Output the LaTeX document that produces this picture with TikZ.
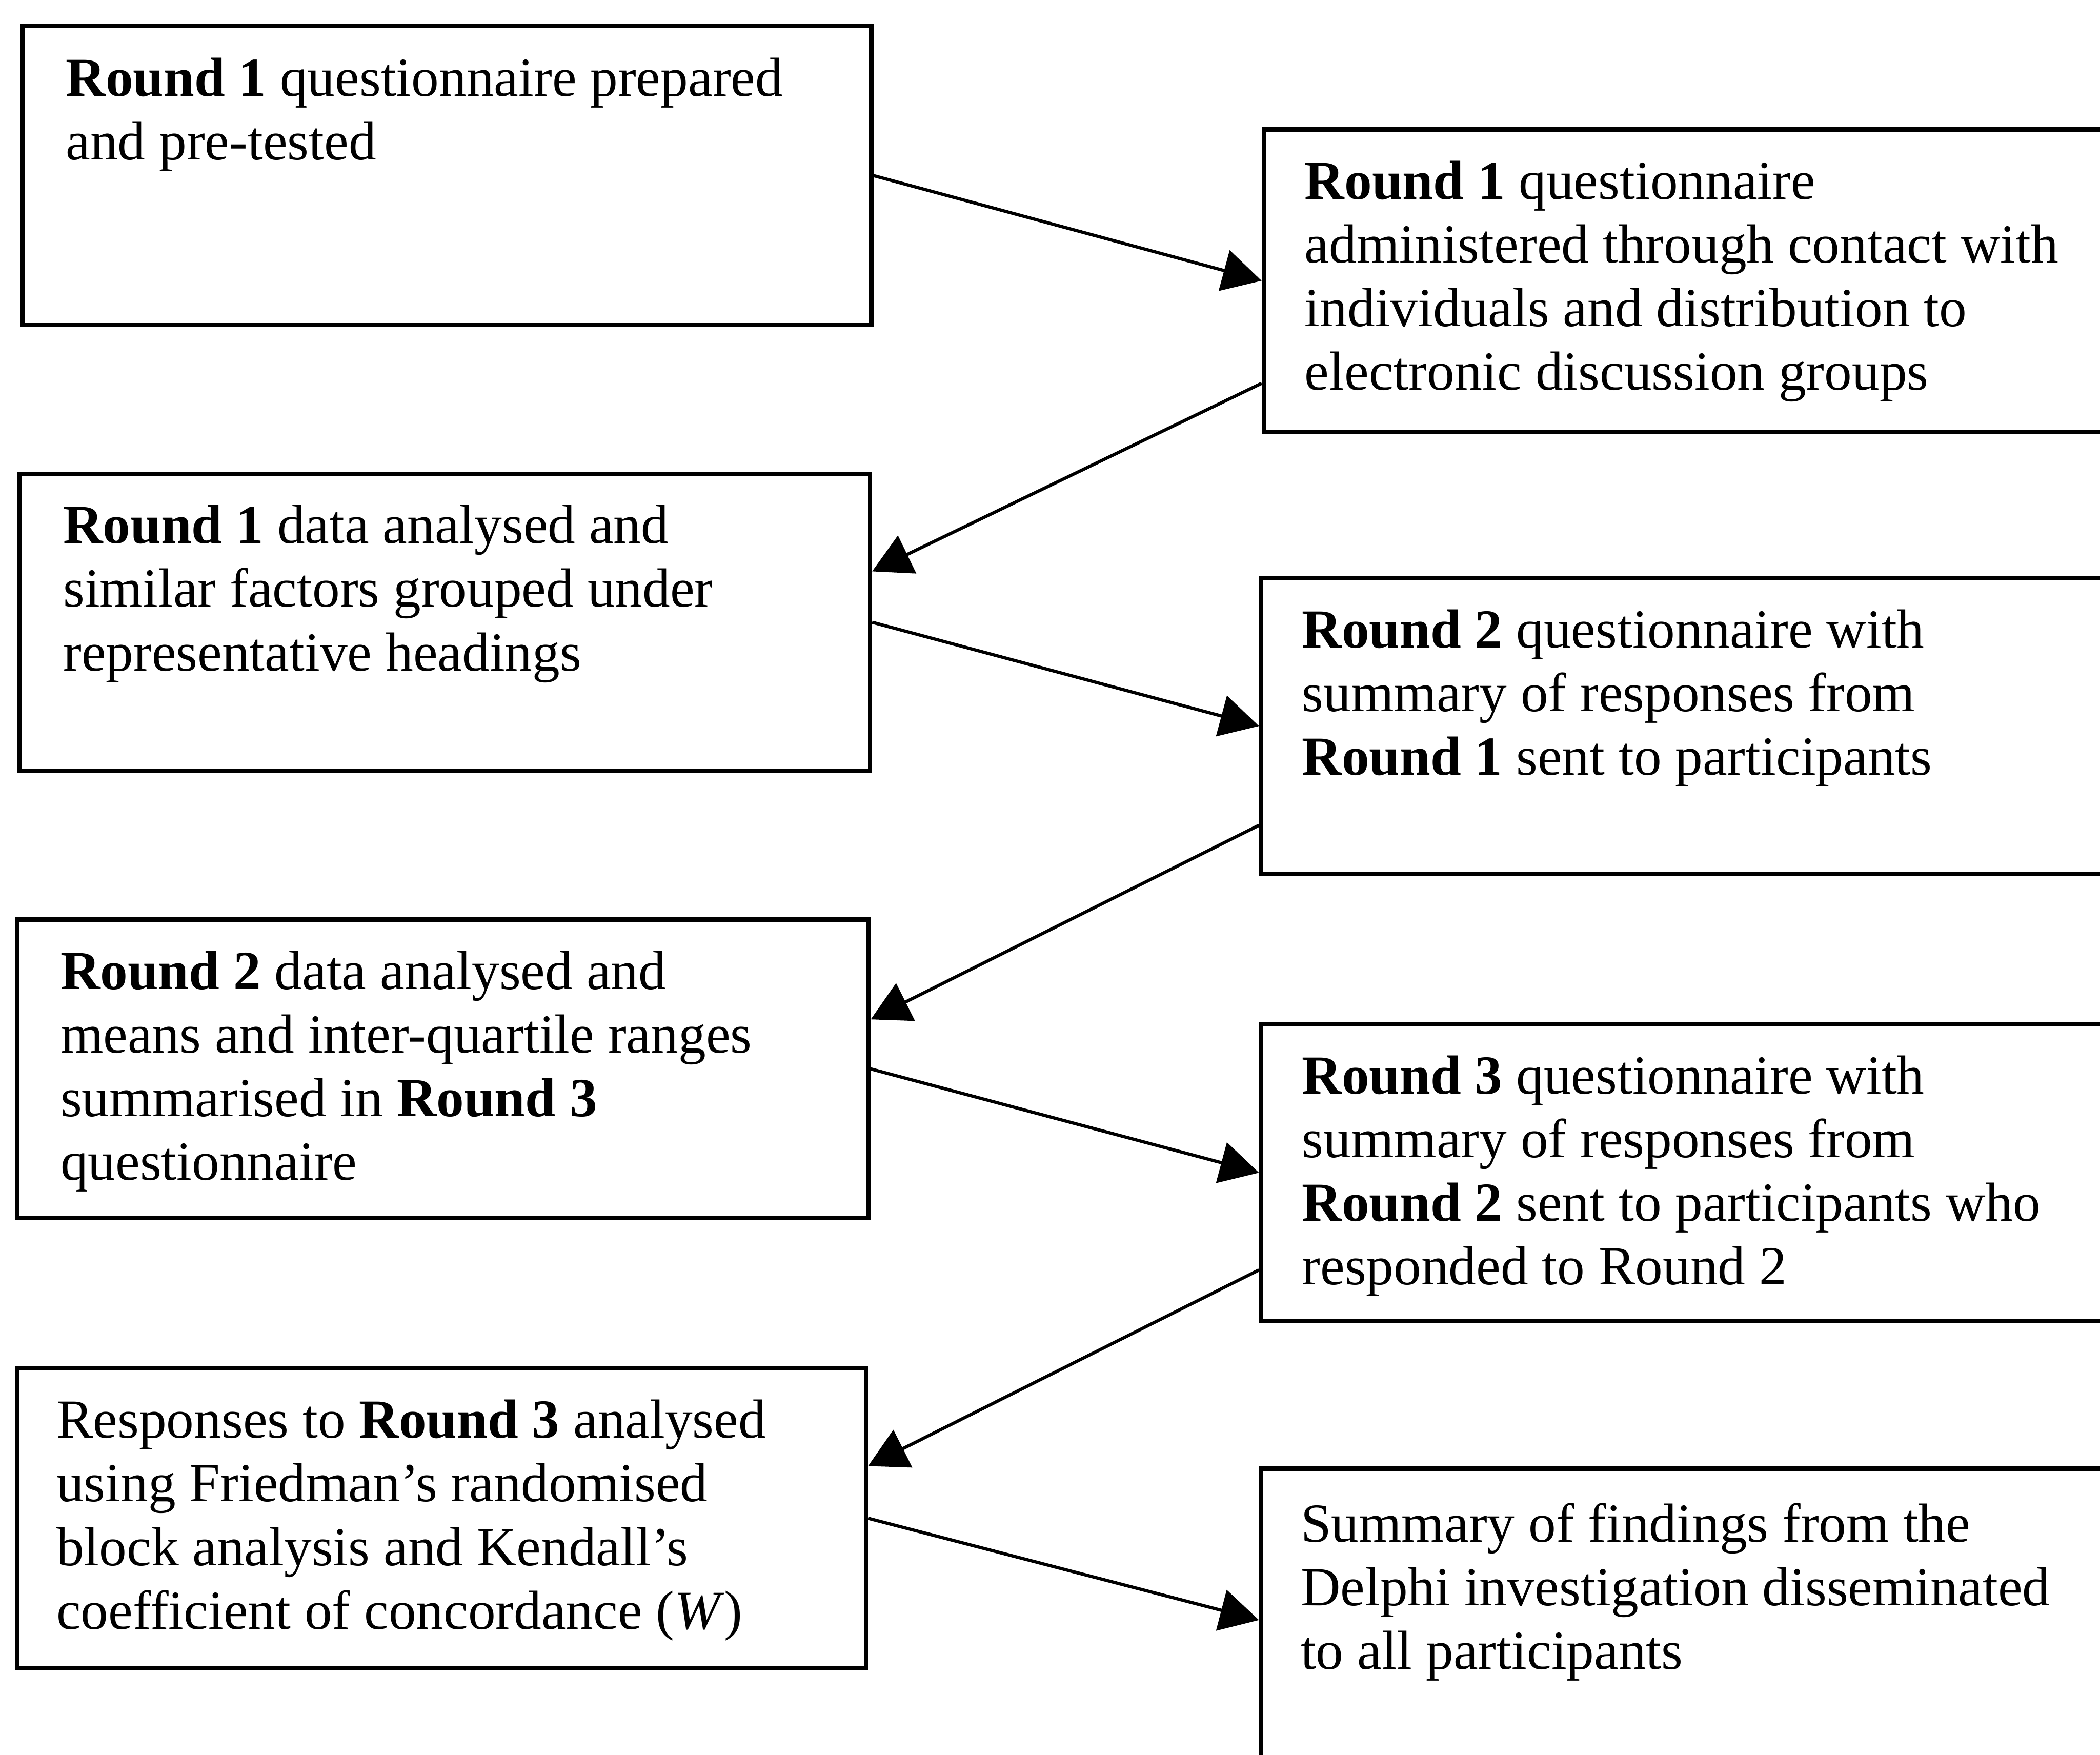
\documentclass[tikz,border=0pt]{standalone}
\usepackage{fontspec}
\setmainfont{Liberation Serif}
\usetikzlibrary{arrows.meta,calc}
\begin{document}
\begin{tikzpicture}[x=1pt,y=1pt,
  box/.style={draw=black, line width=3.2pt, anchor=north west, inner sep=0pt},
  txt/.style={anchor=north west, inner sep=0pt, align=left, font=\fontsize{41.1}{47.5}\selectfont},
  arr/.style={line width=2.4pt, -{Triangle[length=29pt,width=31pt]}}]
\useasboundingbox (0,0) rectangle (1568,-1310);
\clip (0,0) rectangle (1568,-1310);
% boxes
\node[box, minimum width=634pt, minimum height=223pt] (L1) at (15,-18) {};
\node[box, minimum width=635pt, minimum height=222pt] (L2) at (13,-352) {};
\node[box, minimum width=636pt, minimum height=223pt] (L3) at (11,-685) {};
\node[box, minimum width=634pt, minimum height=224pt] (L4) at (11,-1020) {};
\node[box, minimum width=640pt, minimum height=226pt] (R1) at (942,-95) {};
\node[box, minimum width=640pt, minimum height=221pt] (R2) at (940,-430) {};
\node[box, minimum width=640pt, minimum height=222pt] (R3) at (940,-763) {};
\node[box, minimum width=640pt, minimum height=226pt] (R4) at (940,-1095) {};
% texts
\node[txt] (L1t) at ([shift={(34,-25)}]L1.north west) {\textbf{Round 1} questionnaire prepared\\and pre-tested};
\node[txt] (R1t) at ([shift={(32,-25)}]R1.north west) {\textbf{Round 1} questionnaire\\administered through contact with\\individuals and distribution to\\electronic discussion groups};
\node[txt] (L2t) at ([shift={(34,-25)}]L2.north west) {\textbf{Round 1} data analysed and\\similar factors grouped under\\representative headings};
\node[txt] (R2t) at ([shift={(32,-25)}]R2.north west) {\textbf{Round 2} questionnaire with\\summary of responses from\\\textbf{Round 1} sent to participants};
\node[txt] (L3t) at ([shift={(34,-25)}]L3.north west) {\textbf{Round 2} data analysed and\\means and inter-quartile ranges\\summarised in \textbf{Round 3}\\questionnaire};
\node[txt] (R3t) at ([shift={(32,-25)}]R3.north west) {\textbf{Round 3} questionnaire with\\summary of responses from\\\textbf{Round 2} sent to participants who\\responded to Round 2};
\node[txt] (L4t) at ([shift={(31,-25)}]L4.north west) {Responses to \textbf{Round 3} analysed\\using Friedman’s randomised\\block analysis and Kendall’s\\coefficient of concordance (\textit{W})};
\node[txt] (R4t) at ([shift={(31,-27)}]R4.north west) {Summary of findings from the\\Delphi investigation disseminated\\to all participants};
% arrows
\draw[arr] (L1.east) -- (R1.west);
\draw[arr] ([yshift=38pt]R1.south west) -- ([yshift=38pt]L2.east);
\draw[arr] (L2.east) -- (R2.west);
\draw[arr] ([yshift=38pt]R2.south west) -- ([yshift=37pt]L3.east);
\draw[arr] (L3.east) -- (R3.west);
\draw[arr] ([yshift=40pt]R3.south west) -- ([yshift=39pt]L4.east);
\draw[arr] (L4.east) -- (R4.west);
\end{tikzpicture}
\end{document}
